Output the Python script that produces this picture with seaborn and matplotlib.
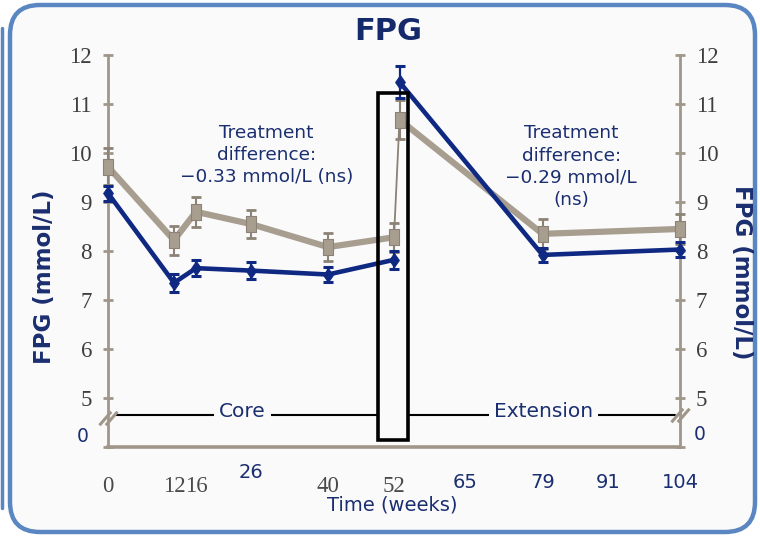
import matplotlib
matplotlib.use("Agg")
import matplotlib.pyplot as plt
import seaborn as sns
import pandas as pd
from matplotlib.path import Path
from matplotlib.patches import Rectangle, FancyBboxPatch
from matplotlib.lines import Line2D
from matplotlib.transforms import IdentityTransform

# ---- data -----------------------------------------------------------------
core_weeks = [0, 12, 16, 26, 40, 52]
ext_weeks = [53, 79, 104]

# treatment arm (navy): mean FPG, mmol/L, with error bars
navy_core = [9.18, 7.35, 7.65, 7.60, 7.52, 7.82]
navy_core_err = [0.15, 0.18, 0.17, 0.17, 0.15, 0.18]
navy_ext = [11.45, 7.92, 8.03]
navy_ext_err = [0.33, 0.15, 0.15]

# comparator arm (taupe)
taupe_core = [9.72, 8.22, 8.80, 8.55, 8.08, 8.28]
taupe_core_err = [0.38, 0.30, 0.30, 0.28, 0.28, 0.30]
taupe_ext = [10.68, 8.35, 8.45]
taupe_ext_err = [0.40, 0.30, 0.30]

x_ticks = [0, 12, 16, 26, 40, 52, 65, 79, 91, 104]
x_labels = ["0", "12", "16", "26", "40", "52", "65", "79", "91", "104"]
navy_x_ticks = [26, 65, 79, 91, 104]
y_ticks = [5, 6, 7, 8, 9, 10, 11, 12]
y_floor = 4          # position of the broken-axis "0"

# ---- styling ----------------------------------------------------------------
NAVY = "#0F2882"
NAVY_TEXT = "#1A2E70"
TAUPE = "#A89E90"
TAUPE_DARK = "#8C8275"
AXIS_GRAY = "#A0978A"
DIGIT_GRAY = "#3E3E3E"

sns.set_style("white")
plt.rcParams["font.family"] = ["DejaVu Sans"]

W, H = 760, 537
fig = plt.figure(figsize=(W / 100, H / 100), dpi=100)
fig.patch.set_facecolor("white")

# rounded panel frame
frame = FancyBboxPatch((10, 5), 745, 527,
                       boxstyle="round,pad=0,rounding_size=30",
                       transform=IdentityTransform(), facecolor="#FAFAFB",
                       edgecolor="#5A86C1", linewidth=3.2, zorder=0)
fig.add_artist(frame)
fig.add_artist(Line2D([1.5, 1.5], [H - 508, H - 28], transform=IdentityTransform(),
                      color="#5A86C1", linewidth=2.5))

ax = fig.add_axes([108 / W, 90 / H, 572 / W, 392 / H])
ax.set_facecolor("none")

# ---- series -----------------------------------------------------------------
def frame_for(core_vals, ext_vals):
    return pd.DataFrame({
        "week": core_weeks + ext_weeks,
        "fpg": core_vals + ext_vals,
        "segment": ["core"] * len(core_weeks) + ["extension"] * len(ext_weeks),
    })

taupe_df = frame_for(taupe_core, taupe_ext)
navy_df = frame_for(navy_core, navy_ext)

tall_square = Path([(-0.7, -1), (0.7, -1), (0.7, 1), (-0.7, 1), (-0.7, -1)],
                   [Path.MOVETO, Path.LINETO, Path.LINETO, Path.LINETO, Path.CLOSEPOLY])
tall_diamond = Path([(0, 1), (0.7, 0), (0, -1), (-0.7, 0), (0, 1)],
                    [Path.MOVETO, Path.LINETO, Path.LINETO, Path.LINETO, Path.CLOSEPOLY])

# thin link of the comparator arm into the extension
sns.lineplot(x=[core_weeks[-1], ext_weeks[0]], y=[taupe_core[-1], taupe_ext[0]],
             color=TAUPE_DARK, linewidth=1.3, sort=False, ax=ax, zorder=2)

for weeks, vals, errs in [(core_weeks, taupe_core, taupe_core_err),
                          (ext_weeks, taupe_ext, taupe_ext_err)]:
    eb = ax.errorbar(weeks, vals, yerr=errs, fmt="none", ecolor=TAUPE_DARK,
                     elinewidth=1.5, capsize=3.5, capthick=2, zorder=3)
    for art in list(eb.lines[1]) + list(eb.lines[2]):
        art.set_clip_on(False)

sns.lineplot(data=taupe_df, x="week", y="fpg", units="segment", estimator=None,
             sort=False, color=TAUPE, linewidth=4.5, marker=tall_square,
             markersize=11, markerfacecolor=TAUPE, markeredgecolor=TAUPE_DARK,
             markeredgewidth=0.8, ax=ax, legend=False, zorder=4, clip_on=False)

for weeks, vals, errs in [(core_weeks, navy_core, navy_core_err),
                          (ext_weeks, navy_ext, navy_ext_err)]:
    eb = ax.errorbar(weeks, vals, yerr=errs, fmt="none", ecolor=NAVY,
                     elinewidth=1.6, capsize=3.5, capthick=2.2, zorder=5)
    for art in list(eb.lines[1]) + list(eb.lines[2]):
        art.set_clip_on(False)

sns.lineplot(data=navy_df, x="week", y="fpg", units="segment", estimator=None,
             sort=False, color=NAVY, linewidth=3.3, marker=tall_diamond,
             markersize=10, markerfacecolor=NAVY, markeredgecolor=NAVY,
             ax=ax, legend=False, zorder=6, clip_on=False)

# ---- axes -------------------------------------------------------------------
ax.set_xlim(0, 104)
ax.set_ylim(y_floor, 12)
ax.set_xlabel("")
ax.set_ylabel("")
ax.spines["top"].set_visible(False)
for side, lw in [("left", 2.0), ("right", 2.0), ("bottom", 2.6)]:
    ax.spines[side].set_color(AXIS_GRAY)
    ax.spines[side].set_linewidth(lw)

ax.set_yticks([y_floor] + y_ticks, labels=[""] + [str(v) for v in y_ticks],
              fontfamily="Liberation Serif")
ax.tick_params(axis="y", direction="inout", length=7, width=2, color=AXIS_GRAY,
               labelsize=16.5, labelcolor=DIGIT_GRAY, pad=8,
               left=True, right=True, labelleft=True, labelright=True)

ax.set_xticks(x_ticks, labels=[""] * len(x_ticks))
ax.tick_params(axis="x", direction="inout", length=9, width=2, color=AXIS_GRAY)
for tick, wk in zip(ax.xaxis.get_major_ticks(), x_ticks):
    if wk in navy_x_ticks and wk != 104:
        tick.tick1line.set_markeredgecolor("#2A5A9A")
        tick.tick1line.set_markeredgewidth(3)

# x tick labels: serif grey for the core visits, navy sans for the others
for wk, lab in zip(x_ticks, x_labels):
    if wk in navy_x_ticks:
        dy = -26 if wk == 26 else -36
        ax.annotate(lab, xy=(wk, 0), xycoords=ax.get_xaxis_transform(),
                    xytext=(0, dy), textcoords="offset pixels", ha="center",
                    va="center", fontsize=14, color=NAVY_TEXT,
                    family="DejaVu Sans", annotation_clip=False)
    else:
        ax.annotate(lab, xy=(wk, 0), xycoords=ax.get_xaxis_transform(),
                    xytext=(0, -40), textcoords="offset pixels", ha="center",
                    va="center", fontsize=16.5, color="#4A4A4A",
                    family="Liberation Serif", annotation_clip=False)

# broken-axis zero labels
ax.annotate("0", xy=(0, y_floor), xytext=(-25, 10), textcoords="offset pixels",
            ha="center", va="center", fontsize=13.5, color=NAVY_TEXT,
            annotation_clip=False)
ax.annotate("0", xy=(104, y_floor), xytext=(20, 13), textcoords="offset pixels",
            ha="center", va="center", fontsize=13.5, color=NAVY_TEXT,
            annotation_clip=False)

# axis break marks
slashes = Path([(-1.0, -0.75), (0.3, 0.75), (-0.3, -0.75), (1.0, 0.75)],
               [Path.MOVETO, Path.LINETO, Path.MOVETO, Path.LINETO])
break_level = 4.62
ax.plot([0, 104], [break_level - 0.03, break_level + 0.03], linestyle="none",
        marker=slashes, markersize=13, markeredgewidth=2.2,
        markeredgecolor=AXIS_GRAY, markerfacecolor="none", clip_on=False, zorder=7)

# core / extension divider with the week-52 box
box_x0, box_x1 = 49.0, 54.5
box_y0, box_y1 = 4.14, 11.22
divider_y = 4.66
ax.plot([1.2, box_x0], [divider_y, divider_y], color="black", linewidth=1.5, zorder=2)
ax.plot([box_x1, 103.0], [divider_y, divider_y], color="black", linewidth=1.5, zorder=2)
ax.add_patch(Rectangle((box_x0, box_y0), box_x1 - box_x0, box_y1 - box_y0,
                       fill=False, edgecolor="black", linewidth=2.6,
                       clip_on=False, zorder=8))
for label, xpos in [("Core", 24.4), ("Extension", 79.2)]:
    ax.text(xpos, divider_y + 0.07, label, ha="center", va="center",
            fontsize=14.5, color=NAVY_TEXT, zorder=9,
            bbox=dict(boxstyle="square,pad=0.25", facecolor="#FAFAFB",
                      edgecolor="none"))

# treatment-difference notes
ax.text(28.8, 9.96, "Treatment\ndifference:\n\u22120.33 mmol/L (ns)",
        ha="center", va="center", fontsize=13.3, color=NAVY_TEXT, linespacing=1.3)
ax.text(84.2, 9.72, "Treatment\ndifference:\n\u22120.29 mmol/L\n(ns)",
        ha="center", va="center", fontsize=13.3, color=NAVY_TEXT, linespacing=1.3)

# titles and axis titles
fig.text(388 / W, 1 - 32 / H, "FPG", ha="center", va="center", fontsize=22,
         fontweight="bold", color="#142A6A")
fig.text(392 / W, 1 - 505 / H, "Time (weeks)", ha="center", va="center",
         fontsize=14, color=NAVY_TEXT)
fig.text(45 / W, 1 - 277 / H, "FPG (mmol/L)", ha="center", va="center",
         rotation=90, fontsize=16.5, fontweight="bold", color=NAVY_TEXT)
fig.text(742 / W, 1 - 272 / H, "FPG (mmol/L)", ha="center", va="center",
         rotation=270, fontsize=16.5, fontweight="bold", color=NAVY_TEXT)

fig.savefig("out.png", dpi=100)
